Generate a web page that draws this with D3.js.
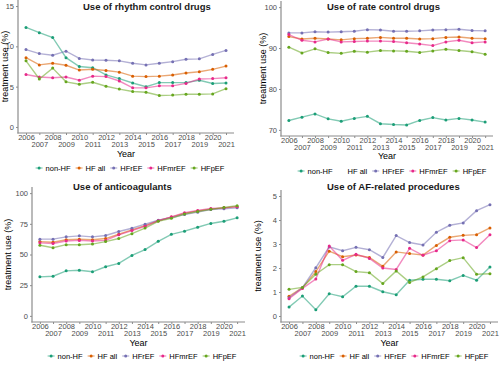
<!DOCTYPE html>
<html lang="en">
<head>
<meta charset="UTF-8">
<title>Treatment use by HF status</title>
<script src="https://d3js.org/d3.v7.min.js"></script>
<style>
  body, html { margin: 0; padding: 0; background: #fff; }
  svg { display: block; font-family: "Liberation Sans", Arial, sans-serif; }
  .tick text { fill: #4d4d4d; font-size: 7.5px; }
  .tick line { stroke: #8c8c8c; }
  .axis-line { stroke: #8c8c8c; stroke-width: 1.2px; }
  .line { fill: none; stroke-width: 1.4px; stroke-opacity: 0.55; }
  .title { font-size: 9.5px; font-weight: bold; fill: #1a1a1a; }
  .axis-title { font-size: 9px; fill: #000; }
  .legend text { font-size: 7.5px; fill: #000; }
</style>
</head>
<body>
<div id="chart"></div>
<script>
// categories
const years = [2006, 2007, 2008, 2009, 2010, 2011, 2012, 2013, 2014, 2015, 2016, 2017, 2018, 2019, 2020, 2021];
const groups = ["non-HF", "HF all", "HFrEF", "HFmrEF", "HFpEF"];
const colors = ["#1B9E77", "#D95F02", "#7570B3", "#E7298A", "#66A61E"];

// rhythm control drugs (%)
const rhythmNonHF  = [12.35, 11.7, 11.1, 8.6, 7.5, 7.35, 6.45, 6.0, 5.45, 5.0, 5.5, 5.5, 5.5, 5.8, 5.4, 5.45];
const rhythmHFall  = [8.6, 7.7, 7.9, 7.65, 7.06, 7.15, 7.0, 6.8, 6.3, 6.25, 6.3, 6.45, 6.7, 6.85, 7.15, 7.55];
const rhythmHFrEF  = [9.6, 9.1, 8.9, 9.4, 8.5, 8.3, 8.28, 8.2, 7.9, 7.7, 7.9, 8.1, 8.4, 8.45, 9.0, 9.5];
const rhythmHFmrEF = [6.5, 6.2, 6.1, 6.2, 5.8, 6.3, 6.25, 5.7, 4.85, 4.85, 5.1, 5.1, 5.4, 5.95, 6.0, 6.1];
const rhythmHFpEF  = [8.2, 5.95, 7.3, 5.6, 5.3, 5.55, 5.05, 4.7, 4.4, 4.3, 3.9, 3.95, 4.05, 4.05, 4.1, 4.75];

// rate control drugs (%)
const rateNonHF  = [72.3, 73.1, 73.9, 72.7, 72.1, 72.8, 73.3, 71.5, 71.3, 71.2, 72.3, 73.0, 72.4, 72.8, 72.4, 71.9];
const rateHFall  = [92.8, 92.2, 92.4, 92.2, 92.0, 92.3, 92.4, 92.6, 92.4, 92.4, 92.2, 92.3, 92.6, 92.7, 92.4, 92.3];
const rateHFrEF  = [93.7, 93.7, 94.0, 93.9, 94.0, 94.1, 94.5, 94.4, 94.1, 94.1, 94.2, 94.4, 94.5, 94.6, 94.3, 94.2];
const rateHFmrEF = [93.3, 91.9, 91.5, 92.2, 91.5, 91.6, 91.7, 91.7, 91.6, 91.3, 91.0, 90.6, 91.5, 91.9, 91.3, 91.5];
const rateHFpEF  = [90.2, 88.8, 89.8, 88.9, 88.7, 89.2, 89.0, 89.4, 89.3, 89.2, 88.9, 89.3, 89.7, 89.4, 89.1, 88.5];

// anticoagulants (%)
const anticoagNonHF  = [31.8, 32.3, 36.7, 37.2, 35.9, 40.0, 42.7, 49.2, 54.0, 60.7, 66.4, 69.0, 72.2, 75.3, 77.1, 79.9];
const anticoagHFall  = [60.5, 60.0, 62.0, 62.5, 62.0, 63.0, 66.5, 70.0, 73.5, 77.5, 80.5, 83.5, 85.5, 87.0, 88.0, 89.0];
const anticoagHFrEF  = [62.5, 62.5, 64.4, 65.2, 64.4, 65.5, 68.7, 71.4, 74.7, 77.9, 80.1, 82.6, 84.5, 86.6, 87.2, 88.0];
const anticoagHFmrEF = [59.5, 59.0, 61.0, 61.5, 61.0, 61.5, 66.0, 69.5, 73.0, 77.5, 80.7, 84.0, 85.8, 87.5, 88.0, 89.0];
const anticoagHFpEF  = [57.5, 55.5, 58.0, 58.0, 58.5, 60.5, 63.0, 67.0, 71.5, 77.0, 79.5, 83.0, 85.0, 86.8, 88.3, 89.8];

// AF-related procedures (%)
const procNonHF  = [0.37, 0.83, 0.26, 0.93, 0.8, 1.24, 1.24, 1.01, 0.89, 1.49, 1.53, 1.53, 1.47, 1.69, 1.49, 2.04];
const procHFall  = [0.82, 1.18, 1.85, 2.7, 2.47, 2.54, 2.44, 2.07, 2.67, 2.6, 2.54, 2.94, 3.28, 3.36, 3.39, 3.67];
const procHFrEF  = [0.76, 1.18, 2.01, 2.88, 2.72, 2.86, 2.76, 2.44, 3.35, 3.06, 2.96, 3.49, 3.78, 3.88, 4.39, 4.64];
const procHFmrEF = [0.72, 1.15, 1.54, 2.92, 2.32, 2.57, 2.4, 2.0, 1.94, 2.82, 2.53, 2.72, 3.14, 3.17, 2.85, 3.39];
const procHFpEF  = [1.11, 1.19, 1.74, 2.14, 2.14, 1.85, 1.8, 1.35, 1.88, 1.4, 1.63, 1.97, 2.31, 2.43, 1.74, 1.76];

// y tick labels
const rhythmTicks = [0, 5, 10, 15];
const rateTicks = [70, 80, 90, 100];
const anticoagTicks = [0, 25, 50, 75, 100];
const procTicks = [0, 1, 2, 3, 4, 5];

const panels = [
    { title: "Use of rhythm control drugs", series: [rhythmNonHF, rhythmHFall, rhythmHFrEF, rhythmHFmrEF, rhythmHFpEF],
      ticks: rhythmTicks, lim: [0, 15],
      box: { left: 18, right: 234, top: 0, bottom: 133 }, titleX: 83, titleY: 7, yTitleX: 5, yearY: 154, legendY: 168, legendCX: 130, legendSkip: [] },
    { title: "Use of rate control drugs", series: [rateNonHF, rateHFall, rateHFrEF, rateHFmrEF, rateHFpEF],
      ticks: rateTicks, lim: [70, 100],
      box: { left: 281, right: 493, top: 1, bottom: 136 }, titleX: 327, titleY: 7, yTitleX: 263, yearY: 156, legendY: 171, legendCX: 392, legendSkip: [1] },
    { title: "Use of anticoagulants", series: [anticoagNonHF, anticoagHFall, anticoagHFrEF, anticoagHFmrEF, anticoagHFpEF],
      ticks: anticoagTicks, lim: [0, 100],
      box: { left: 32, right: 245, top: 187, bottom: 322 }, titleX: 73, titleY: 187, yTitleX: 8, yearY: 343, legendY: 356, legendCX: 142, legendSkip: [] },
    { title: "Use of AF-related procedures", series: [procNonHF, procHFall, procHFrEF, procHFmrEF, procHFpEF],
      ticks: procTicks, lim: [0, 5],
      box: { left: 281, right: 498, top: 190, bottom: 322 }, titleX: 327, titleY: 187, yTitleX: 258, yearY: 343, legendY: 356, legendCX: 394, legendSkip: [] }
];

const svg = d3.select("#chart").append("svg")
    .attr("width", 500)
    .attr("height", 365);

function drawPanel(p) {
    const b = p.box;
    const g = svg.append("g");

    const x = d3.scalePoint().domain(years).range([b.left, b.right]).padding(0.6);
    const pad = (p.lim[1] - p.lim[0]) * 0.05;
    const y = d3.scaleLinear().domain([p.lim[0] - pad, p.lim[1] + pad]).range([b.bottom, b.top]);

    // y axis
    const ya = g.append("g")
        .attr("transform", `translate(${b.left},0)`)
        .call(d3.axisLeft(y).tickValues(p.ticks).tickFormat(d => d)
            .tickSize(2).tickSizeOuter(0).tickPadding(2));
    ya.select(".domain").remove();

    // x axis with dodged labels
    const xa = g.append("g")
        .attr("transform", `translate(0,${b.bottom})`)
        .call(d3.axisBottom(x).tickSize(2).tickSizeOuter(0).tickPadding(1).tickFormat(d => d));
    xa.select(".domain").remove();
    xa.selectAll(".tick text")
        .attr("y", d => (d % 2 === 0 ? 1.5 : 9));

    g.append("line").attr("class", "axis-line")
        .attr("x1", b.left).attr("x2", b.left).attr("y1", b.top).attr("y2", b.bottom + 0.6);
    g.append("line").attr("class", "axis-line")
        .attr("x1", b.left - 0.6).attr("x2", b.right).attr("y1", b.bottom).attr("y2", b.bottom);

    // lines and points
    const line = d3.line().x((d, i) => x(years[i])).y(d => y(d));
    p.series.forEach((vals, k) => {
        g.append("path").attr("class", "line")
            .attr("stroke", colors[k])
            .attr("d", line(vals));
        g.selectAll(null).data(vals).enter().append("circle")
            .attr("cx", (d, i) => x(years[i]))
            .attr("cy", d => y(d))
            .attr("r", 1.5)
            .attr("fill", colors[k]);
    });

    // titles
    g.append("text").attr("class", "title")
        .attr("x", p.titleX).attr("y", p.titleY).attr("dy", "0.35em")
        .text(p.title);
    g.append("text").attr("class", "axis-title")
        .attr("transform", `translate(${p.yTitleX},${(b.top + b.bottom) / 2}) rotate(-90)`)
        .attr("text-anchor", "middle").attr("dy", "0.35em")
        .text("treatment use (%)");
    g.append("text").attr("class", "axis-title")
        .attr("x", (b.left + b.right) / 2).attr("y", p.yearY).attr("dy", "0.35em")
        .attr("text-anchor", "middle")
        .text("Year");

    // legend
    const lg = g.append("g").attr("class", "legend");
    const items = groups.map((name, k) => {
        const it = lg.append("g");
        if (!p.legendSkip.includes(k)) {
            it.append("line").attr("x1", 0).attr("x2", 7).attr("y1", 0).attr("y2", 0)
                .attr("stroke", colors[k]).attr("stroke-opacity", 0.55).attr("stroke-width", 1.2);
            it.append("circle").attr("cx", 3.5).attr("cy", 0).attr("r", 1.5).attr("fill", colors[k]);
        }
        const t = it.append("text").attr("x", 10).attr("dy", "0.35em").text(name);
        return { it, w: 10 + t.node().getComputedTextLength() };
    });
    const gap = 5;
    const total = d3.sum(items, d => d.w) + gap * (items.length - 1);
    let cx = p.legendCX - total / 2;
    items.forEach(d => {
        d.it.attr("transform", `translate(${cx},${p.legendY})`);
        cx += d.w + gap;
    });
}

panels.forEach(drawPanel);
</script>
</body>
</html>
